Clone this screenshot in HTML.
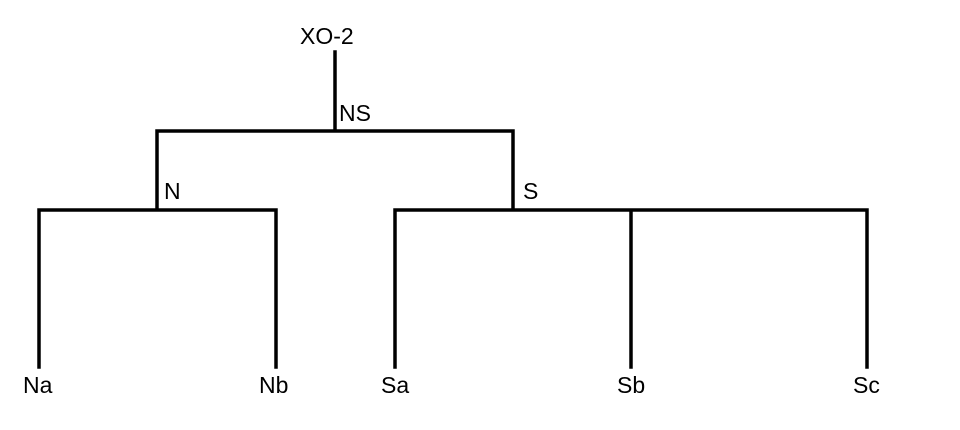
<!DOCTYPE html>
<html><head><style>body{margin:0;background:#fff}</style></head><body>
<svg width="960" height="430" xmlns="http://www.w3.org/2000/svg" style="display:block">
<g stroke="#000" stroke-width="3.5" fill="none" stroke-linecap="square">
<path d="M335 52V131M157 131H513M157 131V210M39 210H276M39 210V367M276 210V367M513 131V210M395 210H867M395 210V367M631 210V367M867 210V367"/>
</g>
<g font-family="Liberation Sans, sans-serif" font-size="23" fill="#000">
<text x="300" y="44">XO-2</text>
<text x="339" y="121">NS</text>
<text x="164" y="199">N</text>
<text x="523" y="199">S</text>
<text x="23" y="393">Na</text>
<text x="259" y="393">Nb</text>
<text x="381" y="393">Sa</text>
<text x="617" y="393">Sb</text>
<text x="853" y="393">Sc</text>
</g>
</svg>
</body></html>
